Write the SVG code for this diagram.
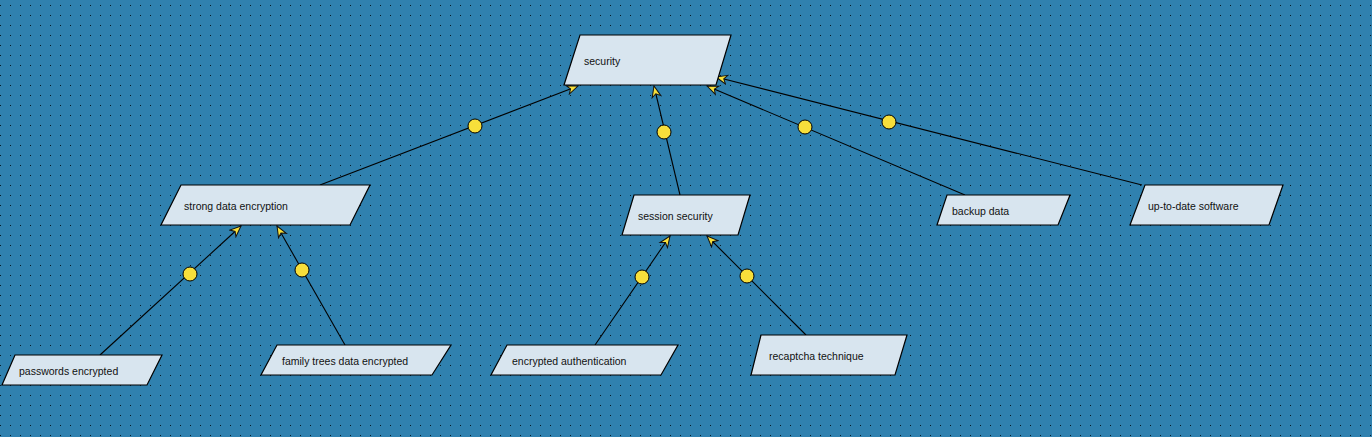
<svg xmlns="http://www.w3.org/2000/svg" width="1372" height="437" viewBox="0 0 1372 437">
<style>
.node polygon{fill:#D8E5EF;stroke:#000;stroke-width:1.2}
.node text{font-family:"Liberation Sans",Arial,sans-serif;font-size:10.5px;fill:#111}
#connectors line{stroke:#000;stroke-width:1.1;marker-end:url(#arr)}
#connectors circle{fill:#F7DF3B;stroke:#000;stroke-width:1}
</style>
<defs>
<pattern id="dots" x="0" y="0" width="10" height="10" patternUnits="userSpaceOnUse">
<rect x="0" y="5" width="1" height="1" fill="#0a1a24"/>
</pattern>
<marker id="arr" markerUnits="userSpaceOnUse" markerWidth="14" markerHeight="12" viewBox="-12 -6 14 12" refX="0" refY="0" orient="auto">
<path d="M0,0 L-11,-4.5 L-8,0 L-11,4.5 Z" fill="#F7DF3B" stroke="#111" stroke-width="1"/>
</marker>
</defs>
<rect width="1372" height="437" fill="#3081AF"/>
<rect width="1372" height="437" fill="url(#dots)"/>

<g id="connectors">
<line x1="320" y1="185" x2="578" y2="86"/>
<line x1="680" y1="195" x2="654" y2="86"/>
<line x1="965" y1="195" x2="707" y2="86"/>
<line x1="1142" y1="185" x2="716" y2="77"/>
<line x1="100" y1="355" x2="241" y2="226"/>
<line x1="345" y1="345" x2="277" y2="226"/>
<line x1="595" y1="345" x2="670" y2="236"/>
<line x1="806" y1="335" x2="707" y2="236"/>
<circle cx="475" cy="126" r="7"/>
<circle cx="664" cy="132" r="7"/>
<circle cx="805" cy="127" r="7"/>
<circle cx="889" cy="122" r="7"/>
<circle cx="190" cy="274" r="7"/>
<circle cx="302" cy="270" r="7"/>
<circle cx="642" cy="277" r="7"/>
<circle cx="747" cy="276" r="7"/>
</g>

<g id="security" class="node">
<polygon points="580,35 731,35 716,85 564,85"/>
<text x="584" y="65">security</text>
</g>
<g id="strong-data-encryption" class="node">
<polygon points="181,185 370,185 350,225 161,225"/>
<text x="184" y="209.5">strong data encryption</text>
</g>
<g id="session-security" class="node">
<polygon points="634,195 750,195 738,235 622,235"/>
<text x="638" y="219.5">session security</text>
</g>
<g id="backup-data" class="node">
<polygon points="947,195 1070,195 1058,225 937,225"/>
<text x="952" y="214.5">backup data</text>
</g>
<g id="up-to-date-software" class="node">
<polygon points="1145,185 1283,185 1269,225 1130,225"/>
<text x="1148" y="209.5">up-to-date software</text>
</g>
<g id="passwords-encrypted" class="node">
<polygon points="15,355 162,355 147,385 2,385"/>
<text x="19" y="374.5">passwords encrypted</text>
</g>
<g id="family-trees-data-encrypted" class="node">
<polygon points="277,345 451,345 432,375 261,375"/>
<text x="282" y="364.5">family trees data encrypted</text>
</g>
<g id="encrypted-authentication" class="node">
<polygon points="507,345 678,345 661,375 491,375"/>
<text x="512" y="364.5">encrypted authentication</text>
</g>
<g id="recaptcha-technique" class="node">
<polygon points="761,335 907,335 895,375 751,375"/>
<text x="769" y="359.5">recaptcha technique</text>
</g>
</svg>
